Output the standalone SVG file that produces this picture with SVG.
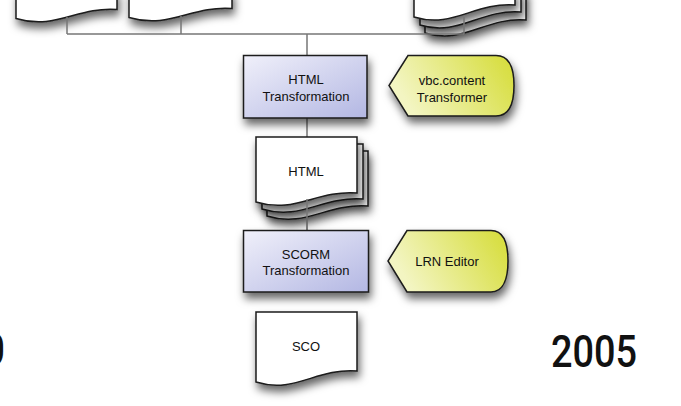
<svg xmlns="http://www.w3.org/2000/svg" width="681" height="406" viewBox="0 0 681 406">
<style>
.doc{fill:#ffffff;stroke:#1a1a1a;stroke-width:1.5;filter:url(#sh)}
.proc{fill:url(#gProc);stroke:#1a1a1a;stroke-width:1.5;filter:url(#sh)}
.disp{fill:url(#gDisp);stroke:#1a1a1a;stroke-width:1.5;filter:url(#sh)}
.lbl{font-family:"Liberation Sans",Arial,sans-serif;font-size:13px;fill:#111;text-anchor:middle}
.conn{stroke:#777;stroke-width:1.5;fill:none}
.year{font-family:Roboto,"DejaVu Sans",sans-serif;font-weight:500;font-size:45px;fill:#111}
</style>
<defs>
<filter id="sh" x="-20%" y="-20%" width="150%" height="170%">
<feDropShadow dx="2" dy="6" stdDeviation="4" flood-color="#000" flood-opacity="0.6"/>
</filter>
<linearGradient id="gProc" x1="0" y1="0" x2="1" y2="1">
<stop offset="0" stop-color="#f0f0fa"/>
<stop offset="1" stop-color="#b3b7e3"/>
</linearGradient>
<linearGradient id="gDisp" x1="0" y1="0.3" x2="1" y2="0">
<stop offset="0" stop-color="#f3f5c2"/>
<stop offset="1" stop-color="#d5dc36"/>
</linearGradient>
</defs>

<rect width="681" height="406" fill="#ffffff"/>

<g id="doc1">
<path class="doc" d="M16,-10 H117 V9.5 C77,6.5 56,30.5 16,18.5 Z"/>
</g>
<g id="doc2">
<path class="doc" d="M129,-10 H232 V8.5 C191,5.5 170,29.5 129,17.5 Z"/>
</g>
<g id="doc3">
<path class="doc" d="M425,-10 H526 V20 C485,17 464,45 425,33 Z"/>
<path class="doc" d="M420,-10 H521 V12 C480,9 459,37 420,25 Z"/>
<path class="doc" d="M414,-10 H515 V5 C474,2 453,29 414,17 Z"/>
</g>

<g id="connectors">
<path class="conn" d="M67,17 V34 M181,16 V34 M464,17 V34 M67,34 H464 M307,34 V55 M307,118 V137 M307,199 V230"/>
</g>

<g id="htmlTransformation">
<rect class="proc" x="243.5" y="55.5" width="123.5" height="62.5"/>
<text class="lbl" x="306" y="84">HTML</text>
<text class="lbl" x="306" y="101">Transformation</text>
</g>

<g id="vbcTransformer">
<path class="disp" d="M408,55.5 H496 C510,55.5 514,70 514,85.5 C514,101 510,116 496,116 H408 L389,85.5 Z"/>
<text class="lbl" x="452" y="85">vbc.content</text>
<text class="lbl" x="452" y="102">Transformer</text>
</g>

<g id="htmlDoc">
<path class="doc" d="M267,151 H368 V206 C327,203 306,228 267,216 Z"/>
<path class="doc" d="M262,144 H363 V199 C322,196 301,221 262,209 Z"/>
<path class="doc" d="M256,137 H357 V193 C316,190 295,214 256,202 Z"/>
<text class="lbl" x="306" y="176">HTML</text>
</g>
<path class="conn" d="M307,199 V230"/>

<g id="scormTransformation">
<rect class="proc" x="243.5" y="230.5" width="125" height="61.5"/>
<text class="lbl" x="306" y="259">SCORM</text>
<text class="lbl" x="306" y="275">Transformation</text>
</g>

<g id="lrnEditor">
<path class="disp" d="M407,230.5 H491 C504,230.5 508,245 508,261 C508,277 504,292 491,292 H407 L388,261 Z"/>
<text class="lbl" x="447" y="266">LRN Editor</text>
</g>

<g id="sco">
<path class="doc" d="M256,312 H357 V371 C316,368 295,394 256,382 Z"/>
<text class="lbl" x="306" y="351">SCO</text>
</g>

<text class="year" x="551" y="367" textLength="86" lengthAdjust="spacingAndGlyphs">2005</text>
<text class="year" x="-17" y="365" textLength="22" lengthAdjust="spacingAndGlyphs">0</text>
</svg>
